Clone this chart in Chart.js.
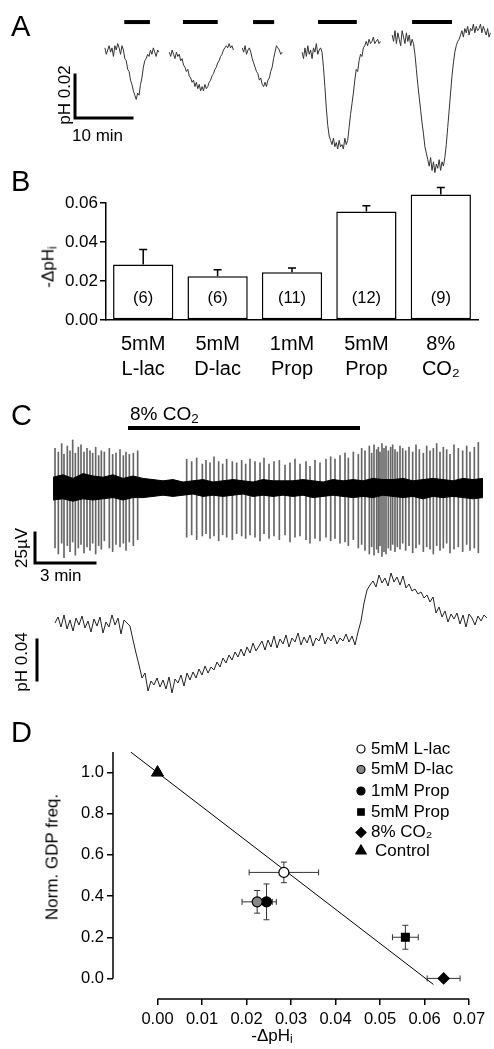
<!DOCTYPE html>
<html>
<head>
<meta charset="utf-8">
<script src="https://cdn.jsdelivr.net/npm/chart.js@4.4.1/dist/chart.umd.min.js"></script>
<style>
  html, body { margin: 0; padding: 0; background: #fff; }
  #fig { position: relative; width: 494px; height: 1049px; overflow: hidden;
         font-family: 'Liberation Sans', Arial, sans-serif; color: #000; }
  #fig canvas { position: absolute; left: 0; }
  .t { position: absolute; line-height: 1; white-space: nowrap; }
  .rot { transform: translate(-50%, -50%) rotate(-90deg); }
  .panel { font-size: 29px; left: 11px; }
  sub { font-size: 70%; vertical-align: -0.25em; line-height: 0; }
</style>
</head>
<body>
<div id="fig">
  <canvas id="chartA" width="494" height="190" style="top:0"></canvas>
  <canvas id="chartB" width="494" height="200" style="top:180px"></canvas>
  <canvas id="chartC1" width="494" height="150" style="top:425px"></canvas>
  <canvas id="chartC2" width="494" height="150" style="top:560px"></canvas>
  <canvas id="chartD" width="494" height="349" style="top:700px"></canvas>

  <div class="t panel" style="top:12px">A</div>
  <div class="t panel" style="top:167px">B</div>
  <div class="t panel" style="top:401px">C</div>
  <div class="t panel" style="top:718px">D</div>

  <div class="t rot" style="left:63.5px;top:94.5px;font-size:17px">pH 0.02</div>
  <div class="t" style="left:72px;top:127px;font-size:17px">10 min</div>
  <div class="t rot" style="left:48px;top:267px;font-size:17px">-ΔpH<sub>i</sub></div>
  <div class="t" style="left:130px;top:404px;font-size:19px">8% CO<sub>2</sub></div>
  <div class="t rot" style="left:20.5px;top:547.5px;font-size:17px">25µV</div>
  <div class="t" style="left:40px;top:567px;font-size:17px">3 min</div>
  <div class="t rot" style="left:20.5px;top:662px;font-size:17px">pH 0.04</div>
  <div class="t rot" style="left:52px;top:857px;font-size:17px">Norm. GDP freq.</div>
  <div class="t" style="left:272px;top:1035px;font-size:17px;transform:translate(-50%,-50%)">-ΔpH<sub>i</sub></div>
</div>

<script>
// ---------- A: pHi traces (mpH, relative to baseline), one sample every 0.25 min ----------
var aStep = 0.25;
var aStart = [18.4, 29.7, 42.5, 53.0, 68.8];
var aTrace1 = [1, -2, 0, 2, -1, 1, -3, 2, 0, 3, 1, -2, 2, 0, -4, -5, -9, -10, -14, -16, -19, -21, -23, -20, -21, -16, -13, -8, -5, -4, -2, -3, 0, -2, 1, -1, -3, 0, -1];
var aTrace2 = [-1, -3, 0, -2, -4, -1, -3, -2, -5, -4, -7, -8, -10, -9, -12, -13, -15, -14, -17, -15, -18, -16, -19, -17, -19, -16, -18, -17, -15, -14, -12, -11, -9, -8, -6, -5, -3, -2, 0, 1, 2, 1, 3, 1, 2, 0];
var aTrace3 = [1, -1, 2, -2, 0, 1, -1, -4, -6, -8, -10, -11, -14, -13, -16, -17, -15, -17, -14, -13, -10, -8, -4, -1, 2, 1, 0, -2, -1];
var aTrace4 = [-1, -4, 1, -3, 2, -2, 0, -4, 1, -1, 3, -2, 0, 1, -1, -8, -17, -27, -35, -40, -42, -44, -41, -45, -43, -46, -42, -45, -44, -46, -41, -44, -42, -36, -30, -25, -20, -14, -9, -10, -5, -2, -3, 1, 2, 4, 2, 5, 3, 4, 6, 3, 4, 5, 3, 4];
var aTrace5 = [7, 4, 9, 3, 8, 5, 2, 9, 6, 3, 8, 4, 7, 2, 5, 3, -2, -9, -16, -22, -28, -34, -39, -45, -48, -51, -54, -50, -56, -52, -57, -53, -55, -51, -56, -52, -54, -50, -44, -36, -28, -20, -12, -6, -1, 2, 4, 5, 7, 9, 6, 10, 8, 11, 7, 10, 9, 12, 8, 11, 9, 10, 12, 8, 11, 9, 7, 10, 6, 8];
var appStart = [21.8, 32.1, 44.4, 55.8, 72.3];   // drug application, min
var appEnd = [26.3, 38.2, 48.1, 62.6, 79.3];

// ---------- B: mean -dpHi ----------
var categories = [['5mM', 'L-lac'], ['5mM', 'D-lac'], ['1mM', 'Prop'], ['5mM', 'Prop'], ['8%', 'CO₂']];
var dpHMean = [0.0284, 0.0224, 0.0245, 0.0557, 0.0643];
var dpHSem = [0.0078, 0.0034, 0.0022, 0.0029, 0.0037];
var nCells = [6, 6, 11, 12, 9];
var bTicks = [0, 0.02, 0.04, 0.06];

// ---------- C: field potential (s, µV) and pHi (mpH) ----------
var spikeT = [6, 16, 26, 33, 43, 51, 59, 67, 76, 84, 93, 102, 111, 119, 128, 137, 145, 154, 169, 179, 189, 201, 211, 219, 229, 241, 254,
  401, 416, 431, 448, 459, 471, 483, 497, 509, 521, 538, 551, 566, 578, 591, 606, 621, 633, 648, 663, 679, 696, 711, 726, 741, 759, 771, 786, 801, 819,
  833, 846, 861, 876, 886, 901, 916, 926, 936, 949, 956, 963, 971, 976, 981, 987, 993, 999, 1006, 1013, 1019, 1026, 1033, 1041, 1049, 1058, 1068, 1079, 1089, 1099,
  1111, 1121, 1131, 1141, 1151, 1161, 1171, 1181, 1191, 1203, 1216, 1229, 1241, 1251, 1264, 1276];
var spikeUp = [33, 30, 37, 28, 35, 31, 40, 29, 34, 36, 30, 33, 31, 29, 34, 27, 31, 30, 33, 28, 29, 32, 27, 30, 28, 29, 31,
  24, 22, 25, 20, 23, 21, 26, 22, 20, 24, 22, 21, 23, 20, 24, 22, 21, 25, 20, 22, 23, 19, 21, 24, 20, 22, 18, 23, 21, 24,
  26, 24, 27, 29, 25, 30, 28, 33, 31, 35, 29, 36, 32, 34, 30, 37, 33, 35, 31, 34, 36, 32, 30, 35, 33, 31, 34, 30, 36, 32,
  29, 35, 31, 33, 37, 30, 34, 32, 28, 36, 33, 31, 35, 30, 34, 38];
var spikeDown = [-50, -55, -46, -58, -48, -53, -45, -56, -50, -47, -54, -49, -52, -46, -55, -48, -51, -44, -50, -53, -47, -49, -46, -52, -45, -48, -43,
  -41, -39, -43, -40, -38, -42, -40, -44, -39, -41, -43, -38, -40, -42, -39, -41, -44, -38, -42, -40, -43, -39, -45, -41, -40, -43, -46, -42, -44, -41,
  -44, -42, -46, -45, -48, -43, -50, -47, -52, -55, -49, -56, -51, -54, -48, -57, -53, -55, -50, -52, -47, -53, -49, -51, -46, -52, -48, -54, -50, -47,
  -53, -49, -51, -55, -48, -52, -50, -46, -54, -51, -49, -53, -47, -52, -50, -54];
var bandT = [0, 30, 60, 90, 120, 150, 180, 210, 240, 270, 300, 330, 360, 390, 420, 450, 480, 510, 540, 570, 600, 630,
  660, 690, 720, 750, 780, 810, 840, 870, 900, 930, 960, 990, 1020, 1050, 1080, 1110, 1140, 1170, 1200, 1230, 1260, 1290];
var bandTop = [9, 11, 8, 12, 10, 9, 11, 8, 10, 8, 7, 6, 7, 5, 6, 7, 5, 6, 7, 6, 5, 7, 6, 6,
  6, 7, 6, 5, 7, 6, 7, 6, 8, 7, 7, 8, 6, 7, 8, 7, 6, 8, 7, 8];
var bandBot = [-10, -9, -11, -9, -10, -9, -8, -10, -8, -8, -7, -6, -7, -6, -5, -7, -6, -7, -6, -5, -7, -6, -7, -6,
  -7, -6, -8, -7, -6, -7, -8, -7, -8, -6, -7, -8, -7, -9, -7, -8, -7, -8, -9, -8];
var co2On = [225, 921];
var phStart = 6, phStep = 9;
var phC = [0, 6, -4, 8, -6, 3, -8, 5, -2, 7, -5, 2, -9, 4, -3, 6, -10, 1, -4, 8, -2, 5, -11, 3, 0, -3,
  -17, -30, -42, -55, -50, -68, -58, -62, -55, -64, -57, -66, -54, -70, -56, -60, -52, -63, -50, -57, -49, -55, -46, -52, -43, -50, -44, -47, -39, -44,
  -35, -40, -32, -37, -29, -34, -26, -33, -24, -30, -20, -28, -23, -18, -27, -17, -24, -13, -25, -16, -21, -12, -24, -15, -19, -10, -22, -14, -20, -12,
  -23, -15, -18, -10, -21, -14, -18, -12, -21, -15, -18, -11, -19, -13, -22, -9,
  2, 20, 33, 38, 42, 36, 48, 40, 45, 37, 50, 41, 46, 38, 47, 35, 39, 32, 34, 29, 31, 25, 28, 21, 26,
  10, 16, 6, 12, 1, 9, 4, 10, -1, 8, -4, 9, 5, -2, 7, 2, 8, 5];

// ---------- D: GDP frequency vs -dpHi ----------
var gdpFreq = [0.515, 0.372, 0.372, 0.2, 0.0];
var gdpSem = [0.05, 0.055, 0.087, 0.058, 0];
var control = [0, 1.0];
var fitSlope = -16.6, fitIntercept = 1.0, fitRange = [-0.006, 0.062];
var dLabels = ['5mM L-lac', '5mM D-lac', '1mM Prop', '5mM Prop', '8% CO₂', 'Control'];
var dXTicks = [0, 0.01, 0.02, 0.03, 0.04, 0.05, 0.06, 0.07];
var dYTicks = [0, 0.2, 0.4, 0.6, 0.8, 1.0];

Chart.defaults.font.family = "'Liberation Sans', Arial, sans-serif";
Chart.defaults.color = '#000';
Chart.defaults.animation = false;
Chart.defaults.events = [];
Chart.defaults.plugins.legend.display = false;
Chart.defaults.plugins.tooltip.enabled = false;

// scale bars, sized through the chart scales
var scaleBar = {
  id: 'scaleBar',
  afterDatasetsDraw: function (chart, args, o) {
    if (!o || o.x == null) return;
    var ctx = chart.ctx, x = chart.scales.x, y = chart.scales.y;
    var px = x.getPixelForValue(o.x), py = y.getPixelForValue(o.y);
    ctx.save();
    ctx.strokeStyle = '#000';
    ctx.lineWidth = 3;
    ctx.lineCap = 'square';
    ctx.beginPath();
    if (o.dy) { ctx.moveTo(px, py); ctx.lineTo(px, y.getPixelForValue(o.y + o.dy)); }
    if (o.dx) { ctx.moveTo(px, py); ctx.lineTo(x.getPixelForValue(o.x + o.dx), py); }
    ctx.stroke();
    ctx.restore();
  }
};

function hidden(min, max) {
  return { type: 'linear', display: false, min: min, max: max, offset: false };
}

// ---------- A ----------
var aTraces = [aTrace1, aTrace2, aTrace3, aTrace4, aTrace5];
var aSets = aTraces.map(function (vals, k) {
  return {
    data: vals.map(function (v, i) { return { x: aStart[k] + i * aStep, y: v }; }),
    borderColor: '#333', borderWidth: 1, pointRadius: 0
  };
});
appStart.forEach(function (s, k) {
  aSets.push({
    data: [{ x: s, y: 13 }, { x: appEnd[k], y: 13 }],
    borderColor: '#000', borderWidth: 4, pointRadius: 0
  });
});
new Chart(document.getElementById('chartA'), {
  type: 'line',
  data: { datasets: aSets },
  options: {
    responsive: false,
    layout: { padding: 0 },
    scales: { x: hidden(0, 86.67), y: hidden(-65.1, 23.26) },
    plugins: { scaleBar: { x: 13.16, y: -31.6, dx: 10, dy: 20 } }
  },
  plugins: [scaleBar]
});

// ---------- B ----------
var barExtras = {
  id: 'barExtras',
  afterDatasetsDraw: function (chart) {
    var ctx = chart.ctx, y = chart.scales.y;
    var bars = chart.getDatasetMeta(0).data;
    ctx.save();
    ctx.strokeStyle = '#000';
    ctx.lineWidth = 1.5;
    ctx.fillStyle = '#000';
    ctx.font = "16.5px 'Liberation Sans', Arial, sans-serif";
    ctx.textAlign = 'center';
    ctx.textBaseline = 'middle';
    bars.forEach(function (bar, i) {
      var top = y.getPixelForValue(dpHMean[i] + dpHSem[i]);
      ctx.beginPath();
      ctx.moveTo(bar.x, bar.y);
      ctx.lineTo(bar.x, top);
      ctx.moveTo(bar.x - 4, top);
      ctx.lineTo(bar.x + 4, top);
      ctx.stroke();
      ctx.fillText('(' + nCells[i] + ')', bar.x, y.getPixelForValue(0) - 22);
    });
    ctx.restore();
  }
};
new Chart(document.getElementById('chartB'), {
  type: 'bar',
  data: {
    labels: categories,
    datasets: [{
      data: dpHMean,
      backgroundColor: '#fff', borderColor: '#000', borderWidth: 1.5, borderSkipped: false,
      categoryPercentage: 1, barPercentage: 0.81, clip: false
    }]
  },
  options: {
    responsive: false,
    layout: { padding: { top: 23, right: 16, left: 0, bottom: 0 } },
    scales: {
      x: {
        grid: { display: false, drawTicks: false },
        border: { color: '#000', width: 1.5 },
        ticks: { font: { size: 20, lineHeight: 1.25 }, color: '#000', padding: 12, maxRotation: 0 },
        afterFit: function (s) { s.height = 60; }
      },
      y: {
        min: 0, max: 0.06,
        afterBuildTicks: function (s) { s.ticks = bTicks.map(function (v) { return { value: v }; }); },
        ticks: { callback: function (v) { return v.toFixed(2); }, font: { size: 17 }, color: '#000', padding: 2 },
        grid: { drawOnChartArea: false, tickLength: 6, color: '#000', lineWidth: 1.5 },
        border: { color: '#000', width: 1.5 },
        afterFit: function (s) { s.width = 106; }
      }
    }
  },
  plugins: [barExtras]
});

// ---------- C: field potential ----------
new Chart(document.getElementById('chartC1'), {
  type: 'line',
  data: {
    datasets: [
      { data: bandT.map(function (t, i) { return { x: t, y: bandTop[i] }; }), fill: '+1',
        borderColor: '#000', backgroundColor: '#000', borderWidth: 1, pointRadius: 0, order: 0 },
      { data: bandT.map(function (t, i) { return { x: t, y: bandBot[i] }; }),
        borderColor: '#000', borderWidth: 1, pointRadius: 0, order: 0 },
      { type: 'bar', data: spikeT.map(function (t, i) { return { x: t, y: [spikeDown[i], spikeUp[i]] }; }),
        backgroundColor: '#666', borderWidth: 0, barThickness: 1, order: 1 },
      { data: co2On.map(function (t) { return { x: t, y: 50 }; }),
        borderColor: '#000', borderWidth: 4, pointRadius: 0, order: 0 }
    ]
  },
  options: {
    responsive: false,
    layout: { padding: 0 },
    scales: { x: hidden(-159, 1323), y: hidden(-72.5, 52.5) },
    plugins: { scaleBar: { x: -54, y: -62.5, dx: 180, dy: 25 } }
  },
  plugins: [scaleBar]
});

// ---------- C: pHi ----------
new Chart(document.getElementById('chartC2'), {
  type: 'line',
  data: {
    datasets: [{
      data: phC.map(function (v, i) { return { x: phStart + i * phStep, y: v }; }),
      borderColor: '#222', borderWidth: 1, pointRadius: 0
    }]
  },
  options: {
    responsive: false,
    layout: { padding: 0 },
    scales: { x: hidden(-159, 1323), y: hidden(-87, 63) },
    plugins: { scaleBar: { x: -48, y: -57, dy: 40 } }
  },
  plugins: [scaleBar]
});

// ---------- D ----------
var dStyles = [
  { style: 'circle', fill: '#fff', r: 5, lr: 4 },
  { style: 'circle', fill: '#888', r: 5, lr: 4 },
  { style: 'circle', fill: '#000', r: 5, lr: 4 },
  { style: 'rect', fill: '#000', r: 5.5, lr: 4.6 },
  { style: 'rectRot', fill: '#000', r: 5.5, lr: 5 },
  { style: 'triangle', fill: '#000', r: 7, lr: 6 }
];

function drawMarker(ctx, s, x, y, r) {
  ctx.beginPath();
  if (s.style === 'circle') {
    ctx.arc(x, y, r, 0, Math.PI * 2);
  } else if (s.style === 'rect') {
    var h = r * Math.SQRT1_2;
    ctx.rect(x - h, y - h, 2 * h, 2 * h);
  } else if (s.style === 'rectRot') {
    ctx.moveTo(x, y - r); ctx.lineTo(x + r, y); ctx.lineTo(x, y + r); ctx.lineTo(x - r, y); ctx.closePath();
  } else {
    ctx.moveTo(x, y - r); ctx.lineTo(x + r * 0.866, y + r / 2); ctx.lineTo(x - r * 0.866, y + r / 2); ctx.closePath();
  }
  ctx.fillStyle = s.fill;
  ctx.fill();
  ctx.lineWidth = 1.2;
  ctx.strokeStyle = '#000';
  ctx.stroke();
}

var dExtras = {
  id: 'dExtras',
  beforeDatasetsDraw: function (chart) {
    var ctx = chart.ctx, x = chart.scales.x, y = chart.scales.y;
    ctx.save();
    ctx.strokeStyle = '#333';
    ctx.lineWidth = 1;
    dpHMean.forEach(function (m, i) {
      var px = x.getPixelForValue(m), py = y.getPixelForValue(gdpFreq[i]);
      var x0 = x.getPixelForValue(m - dpHSem[i]), x1 = x.getPixelForValue(m + dpHSem[i]);
      ctx.beginPath();
      ctx.moveTo(x0, py); ctx.lineTo(x1, py);
      ctx.moveTo(x0, py - 3); ctx.lineTo(x0, py + 3);
      ctx.moveTo(x1, py - 3); ctx.lineTo(x1, py + 3);
      if (gdpSem[i] > 0) {
        var y0 = y.getPixelForValue(gdpFreq[i] - gdpSem[i]), y1 = y.getPixelForValue(gdpFreq[i] + gdpSem[i]);
        ctx.moveTo(px, y0); ctx.lineTo(px, y1);
        ctx.moveTo(px - 3, y0); ctx.lineTo(px + 3, y0);
        ctx.moveTo(px - 3, y1); ctx.lineTo(px + 3, y1);
      }
      ctx.stroke();
    });
    ctx.restore();
  },
  afterDraw: function (chart) {
    var ctx = chart.ctx, x = chart.scales.x, y = chart.scales.y, area = chart.chartArea;
    ctx.save();
    // detached axes
    ctx.strokeStyle = '#000';
    ctx.lineWidth = 1.5;
    ctx.beginPath();
    ctx.moveTo(area.left, y.getPixelForValue(dYTicks[0]));
    ctx.lineTo(area.left, y.getPixelForValue(y.max));
    ctx.moveTo(x.getPixelForValue(dXTicks[0]), area.bottom);
    ctx.lineTo(x.getPixelForValue(dXTicks[dXTicks.length - 1]), area.bottom);
    ctx.stroke();
    // legend
    var rows = [49, 69.5, 91, 112, 132.5, 151];
    ctx.font = "17px 'Liberation Sans', Arial, sans-serif";
    ctx.textBaseline = 'middle';
    ctx.textAlign = 'left';
    dLabels.forEach(function (lab, i) {
      drawMarker(ctx, dStyles[i], 361, rows[i], dStyles[i].lr);
      ctx.fillStyle = '#000';
      ctx.fillText(lab, i === 5 ? 375 : 371, rows[i]);
    });
    ctx.restore();
  }
};

var dSets = dpHMean.map(function (m, i) {
  return {
    data: [{ x: m, y: gdpFreq[i] }],
    pointStyle: dStyles[i].style, pointRadius: dStyles[i].r,
    pointBackgroundColor: dStyles[i].fill, pointBorderColor: '#000', pointBorderWidth: 1.2, order: 0
  };
});
dSets.push({
  data: [{ x: control[0], y: control[1] }],
  pointStyle: 'triangle', pointRadius: dStyles[5].r,
  pointBackgroundColor: '#000', pointBorderColor: '#000', pointBorderWidth: 1, order: 0
});
dSets.push({
  data: fitRange.map(function (v) { return { x: v, y: fitIntercept + fitSlope * v }; }),
  showLine: true, borderColor: '#000', borderWidth: 1, pointRadius: 0, order: 10
});

new Chart(document.getElementById('chartD'), {
  type: 'scatter',
  data: { datasets: dSets },
  options: {
    responsive: false,
    layout: { padding: { top: 52, right: 25, left: 0, bottom: 0 } },
    scales: {
      x: {
        type: 'linear', min: -0.01, max: 0.07,
        afterBuildTicks: function (s) { s.ticks = dXTicks.map(function (v) { return { value: v }; }); },
        ticks: { callback: function (v) { return v.toFixed(2); }, font: { size: 16.5 }, color: '#000', padding: 5, autoSkip: false, maxRotation: 0 },
        grid: { drawOnChartArea: false, tickLength: 6, color: '#000', lineWidth: 1.5 },
        border: { display: false },
        afterFit: function (s) { s.height = 50; }
      },
      y: {
        type: 'linear', min: -0.1, max: 1.1,
        afterBuildTicks: function (s) { s.ticks = dYTicks.map(function (v) { return { value: v }; }); },
        ticks: { callback: function (v) { return v.toFixed(1); }, font: { size: 16.5 }, color: '#000', padding: 3 },
        grid: { drawOnChartArea: false, tickLength: 6, color: '#000', lineWidth: 1.5 },
        border: { display: false },
        afterFit: function (s) { s.width = 113; }
      }
    }
  },
  plugins: [dExtras]
});
</script>
</body>
</html>
